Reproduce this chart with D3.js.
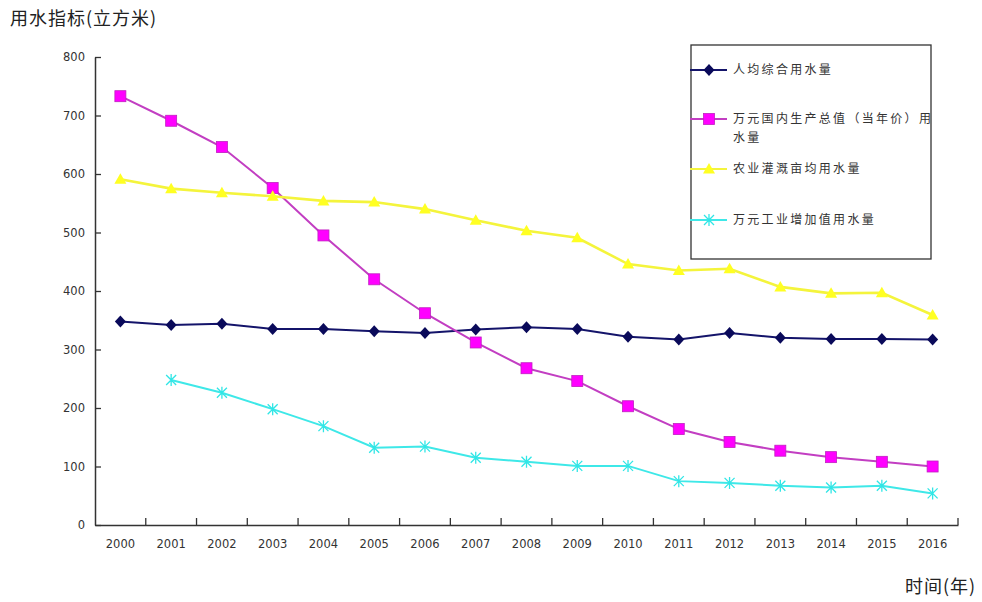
<!DOCTYPE html>
<html>
<head>
<meta charset="utf-8">
<script src="https://cdn.jsdelivr.net/npm/d3@7"></script>
<style>
  body { margin: 0; background: #fff; }
  text { font-family: "DejaVu Sans", sans-serif; }
  .cjk { font-family: "Noto Sans CJK SC", sans-serif; }
</style>
</head>
<body>
<div id="canvas"></div>
<script>
// THE DATA
const years = ["2000","2001","2002","2003","2004","2005","2006","2007","2008",
               "2009","2010","2011","2012","2013","2014","2015","2016"];
const yTicks = [0, 100, 200, 300, 400, 500, 600, 700, 800];
const seriesNames = ["人均综合用水量", "万元国内生产总值（当年价）用水量", "农业灌溉亩均用水量", "万元工业增加值用水量"];
const perCapita  = [348, 342, 344, 335, 335, 331, 328, 334, 338, 335, 322, 317, 328, 320, 318, 318, 317];
const perGdp     = [733, 691, 646, 576, 495, 420, 362, 312, 268, 246, 203, 164, 142, 127, 116, 108, 100];
const irrigation = [591, 575, 568, 562, 554, 552, 540, 521, 503, 491, 446, 435, 438, 407, 396, 397, 359];
const industry   = [null, 248, 226, 198, 169, 132, 134, 115, 108, 101, 101, 75, 72, 67, 64, 67, 54];

const width = 982;
const height = 602;
const svg = d3.select("#canvas")
    .append("svg")
    .attr("width", width)
    .attr("height", height);

const x = d3.scaleBand()
    .domain(years)
    .range([95, 958]);
const y = d3.scaleLinear()
    .domain([0, 800])
    .range([525, 57]);
const cx = d => x(d) + x.bandwidth() / 2;

// style of each series : line colour, marker
const styles = [
    {line: "#14146a", fill: "#0a0a5a", stroke: "#0a0a5a", marker: "diamond"},
    {line: "#c23ec2", fill: "#ff00ff", stroke: "#c020c0", marker: "square"},
    {line: "#f4f43c", fill: "#ffff22", stroke: "#eeee30", marker: "triangle"},
    {line: "#3ee8e8", fill: "none",    stroke: "#30e6e6", marker: "star"}
];
const allSeries = [perCapita, perGdp, irrigation, industry];

// drawMarker : selection, kind, x, y -> draws the marker centred on x,y
function drawMarker(g, st, px, py){
    if(st.marker == "diamond"){
        g.append("path")
            .attr("d", `M${px},${py-6}L${px+5.5},${py}L${px},${py+6}L${px-5.5},${py}Z`)
            .attr("fill", st.fill);
    } else if(st.marker == "square"){
        g.append("rect")
            .attr("x", px - 5.5).attr("y", py - 5.5)
            .attr("width", 11).attr("height", 11)
            .attr("fill", st.fill)
            .attr("stroke", st.stroke).attr("stroke-width", 0.8);
    } else if(st.marker == "triangle"){
        g.append("path")
            .attr("d", `M${px},${py-6}L${px+6},${py+4.5}L${px-6},${py+4.5}Z`)
            .attr("fill", st.fill);
    } else {
        g.append("path")
            .attr("d", `M${px-5},${py-5}L${px+5},${py+5}M${px-5},${py+5}L${px+5},${py-5}M${px},${py-6}L${px},${py+6}`)
            .attr("stroke", st.stroke).attr("stroke-width", 1.3).attr("fill", "none");
    }
}

// series lines + markers
allSeries.forEach(function(vals, i){
    const st = styles[i];
    const line = d3.line()
        .defined(d => d != null)
        .x((d, j) => cx(years[j]))
        .y(d => y(d));
    svg.append("path")
        .datum(vals)
        .attr("d", line)
        .attr("fill", "none")
        .attr("stroke", st.line)
        .attr("stroke-width", i == 2 ? 2.6 : 2);
    const g = svg.append("g");
    vals.forEach(function(v, j){
        if(v != null) drawMarker(g, st, cx(years[j]), y(v));
    });
});

// y axis, ticks pointing inward
const yAxis = svg.append("g")
    .attr("transform", "translate(95,0)")
    .call(d3.axisLeft(y).tickValues(yTicks).tickSize(-6).tickPadding(10).tickSizeOuter(0));
yAxis.select(".domain").attr("stroke", "#333").attr("stroke-width", 1.5);
yAxis.selectAll(".tick line").attr("stroke", "#333").attr("stroke-width", 1.3);
yAxis.selectAll(".tick text").attr("font-size", 11.5).attr("fill", "#333");

// x axis : labels on band centres, tick marks on band edges pointing up
const xAxis = svg.append("g")
    .attr("transform", "translate(0,525)")
    .call(d3.axisBottom(x).tickSize(0).tickPadding(15).tickSizeOuter(0));
xAxis.select(".domain").attr("stroke", "#333").attr("stroke-width", 1.5);
xAxis.selectAll(".tick text").attr("font-size", 11.5).attr("fill", "#333");
const edges = years.slice(1).map(d => x(d)).concat([x(years[years.length - 1]) + x.bandwidth()]);
xAxis.selectAll(".edge")
    .data(edges)
    .enter().append("line")
    .attr("x1", d => d).attr("x2", d => d)
    .attr("y1", 0).attr("y2", -7)
    .attr("stroke", "#333").attr("stroke-width", 1.3);

// titles
svg.append("text")
    .attr("class", "cjk")
    .attr("x", 10).attr("y", 25)
    .attr("font-size", 18)
    .attr("letter-spacing", 1)
    .attr("fill", "#222")
    .text("用水指标(立方米)");
svg.append("text")
    .attr("class", "cjk")
    .attr("x", 905).attr("y", 593)
    .attr("font-size", 18)
    .attr("letter-spacing", 1)
    .attr("fill", "#222")
    .text("时间(年)");

// legend
svg.append("rect")
    .attr("x", 691).attr("y", 45)
    .attr("width", 240).attr("height", 214)
    .attr("fill", "none")
    .attr("stroke", "#333").attr("stroke-width", 1.3);
const legendRows = [70, 119, 169, 220];
seriesNames.forEach(function(name, i){
    const st = styles[i];
    const ly = legendRows[i];
    svg.append("line")
        .attr("x1", 690).attr("x2", 727)
        .attr("y1", ly).attr("y2", ly)
        .attr("stroke", st.line).attr("stroke-width", 2);
    drawMarker(svg.append("g"), st, 709, ly);
    const t = svg.append("text")
        .attr("class", "cjk")
        .attr("x", 733).attr("y", ly + 4)
        .attr("font-size", 12)
        .attr("letter-spacing", 2.3)
        .attr("fill", "#333");
    if(name.length > 12){
        t.append("tspan").attr("x", 733).text(name.slice(0, 14));
        t.append("tspan").attr("x", 733).attr("dy", 19).text(name.slice(14));
    } else {
        t.text(name);
    }
});
</script>
</body>
</html>
